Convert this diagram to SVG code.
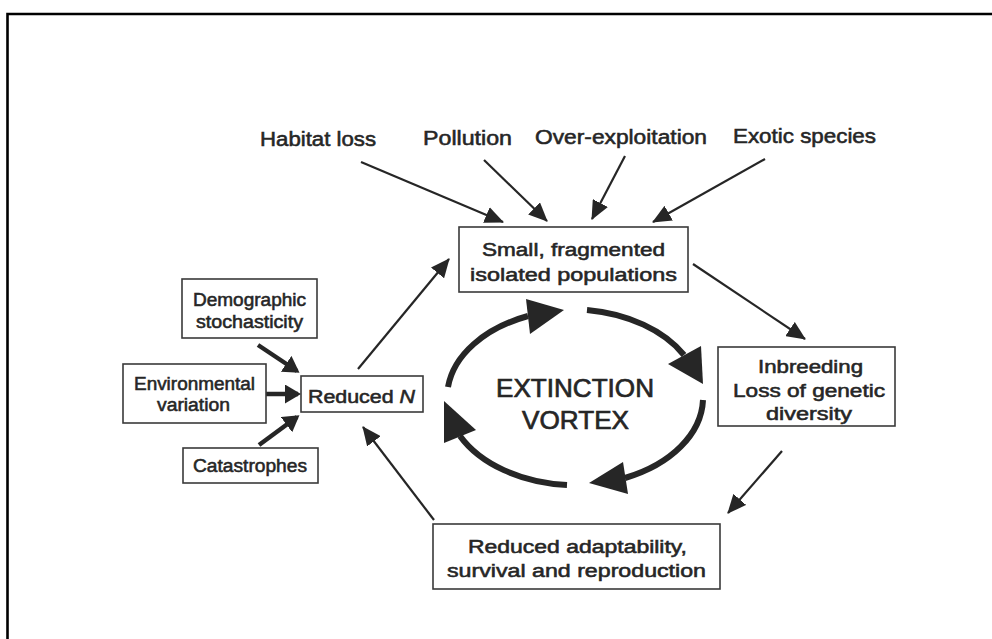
<svg xmlns="http://www.w3.org/2000/svg" width="992" height="639" viewBox="0 0 992 639">
<defs>
<style>
.bx{fill:#fff;stroke:#3a3a3a;stroke-width:1.6}
.t{font-family:"Liberation Sans",Arial,sans-serif;font-size:18px;fill:#262626;text-anchor:middle;stroke:#262626;stroke-width:0.55}
.tl{font-size:20px}
.big{font-size:26px;stroke-width:0.7}
.c{fill:none;stroke:#262626;stroke-width:2.2}
.ct{fill:none;stroke:#262626;stroke-width:4.5}
.v{fill:none;stroke:#262626;stroke-width:6}
.vh{fill:#262626}
</style>
<marker id="ah" markerUnits="userSpaceOnUse" viewBox="0 0 19 17" markerWidth="19" markerHeight="17" refX="18" refY="8.5" orient="auto">
<path d="M0,0 L19,8.5 L0,17 z" fill="#262626"/>
</marker>
<marker id="ahb" markerUnits="userSpaceOnUse" viewBox="0 0 16 19" markerWidth="16" markerHeight="19" refX="13" refY="9.5" orient="auto">
<path d="M0,0 L16,9.5 L0,19 z" fill="#262626"/>
</marker>
</defs>
<rect width="992" height="639" fill="#fff"/>
<path d="M7.5,639 V14 H992" fill="none" stroke="#000" stroke-width="2.6"/>

<g id="connectors">
<line class="c" x1="361" y1="162" x2="503" y2="222" marker-end="url(#ah)"/>
<line class="c" x1="484" y1="160" x2="547" y2="221" marker-end="url(#ah)"/>
<line class="c" x1="625" y1="156" x2="592" y2="219" marker-end="url(#ah)"/>
<line class="c" x1="765" y1="159" x2="653" y2="222" marker-end="url(#ah)"/>
<line class="c" x1="358" y1="369" x2="449" y2="259" marker-end="url(#ah)"/>
<line class="c" x1="693" y1="264" x2="805" y2="339" marker-end="url(#ah)"/>
<line class="c" x1="782" y1="451" x2="728" y2="513" marker-end="url(#ah)"/>
<line class="c" x1="434" y1="520" x2="363" y2="427" marker-end="url(#ah)"/>
<line class="ct" x1="258" y1="345" x2="297" y2="371" marker-end="url(#ahb)"/>
<line class="ct" x1="266" y1="394" x2="298" y2="394" marker-end="url(#ahb)"/>
<line class="ct" x1="259" y1="445" x2="297" y2="417" marker-end="url(#ahb)"/>
</g>

<g id="vortex">
<path class="v" d="M448,387 A130,88 0 0 1 528,316"/>
<polygon class="vh" points="526,299 564,310 530,334"/>
<path class="v" d="M587,310 A130,88 0 0 1 684,355"/>
<polygon class="vh" points="668,364 701,346 703,384"/>
<path class="v" d="M703,400 A130,88 0 0 1 625,478"/>
<polygon class="vh" points="623,462 589,483 628,494"/>
<path class="v" d="M567,485 A130,88 0 0 1 460,436"/>
<polygon class="vh" points="476,430 444,401 444,443"/>
<text class="t big" x="575" y="397" textLength="158" lengthAdjust="spacingAndGlyphs">EXTINCTION</text>
<text class="t big" x="575.5" y="429" textLength="107" lengthAdjust="spacingAndGlyphs">VORTEX</text>
</g>

<g id="habitat-loss"><text class="t tl" x="318" y="146" textLength="116" lengthAdjust="spacingAndGlyphs">Habitat loss</text></g>
<g id="pollution"><text class="t tl" x="467.5" y="145" textLength="89" lengthAdjust="spacingAndGlyphs">Pollution</text></g>
<g id="over-exploitation"><text class="t tl" x="621" y="144" textLength="172" lengthAdjust="spacingAndGlyphs">Over-exploitation</text></g>
<g id="exotic-species"><text class="t tl" x="804.5" y="143" textLength="143" lengthAdjust="spacingAndGlyphs">Exotic species</text></g>

<g id="small-populations">
<rect class="bx" x="459" y="227" width="229" height="65"/>
<text class="t" x="573.5" y="256" textLength="183" lengthAdjust="spacingAndGlyphs">Small, fragmented</text>
<text class="t" x="573.5" y="281" textLength="207" lengthAdjust="spacingAndGlyphs">isolated populations</text>
</g>

<g id="inbreeding">
<rect class="bx" x="718" y="347" width="177" height="79"/>
<text class="t" x="810.5" y="373" textLength="105" lengthAdjust="spacingAndGlyphs">Inbreeding</text>
<text class="t" x="809" y="397" textLength="152" lengthAdjust="spacingAndGlyphs">Loss of genetic</text>
<text class="t" x="809" y="420" textLength="86" lengthAdjust="spacingAndGlyphs">diversity</text>
</g>

<g id="reduced-adaptability">
<rect class="bx" x="433" y="524" width="287" height="65"/>
<text class="t" x="577.5" y="553" textLength="219" lengthAdjust="spacingAndGlyphs">Reduced adaptability,</text>
<text class="t" x="576.5" y="577" textLength="259" lengthAdjust="spacingAndGlyphs">survival and reproduction</text>
</g>

<g id="reduced-n">
<rect class="bx" x="301" y="376" width="122" height="36"/>
<text class="t" x="361.5" y="403" textLength="107" lengthAdjust="spacingAndGlyphs">Reduced <tspan font-style="italic">N</tspan></text>
</g>

<g id="demographic">
<rect class="bx" x="182" y="279" width="135" height="59"/>
<text class="t" x="249.5" y="306" textLength="113" lengthAdjust="spacingAndGlyphs">Demographic</text>
<text class="t" x="249.5" y="328" textLength="107" lengthAdjust="spacingAndGlyphs">stochasticity</text>
</g>

<g id="environmental">
<rect class="bx" x="123" y="364" width="143" height="59"/>
<text class="t" x="194.5" y="390" textLength="121" lengthAdjust="spacingAndGlyphs">Environmental</text>
<text class="t" x="193.5" y="411" textLength="73" lengthAdjust="spacingAndGlyphs">variation</text>
</g>

<g id="catastrophes">
<rect class="bx" x="183" y="448" width="135" height="35"/>
<text class="t" x="250" y="472" textLength="114" lengthAdjust="spacingAndGlyphs">Catastrophes</text>
</g>
</svg>
